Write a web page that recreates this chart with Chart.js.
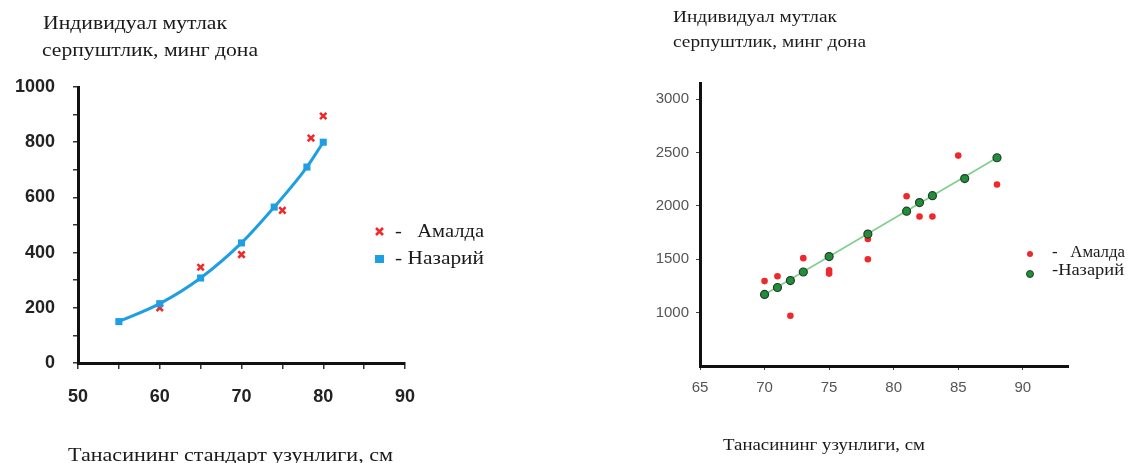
<!DOCTYPE html>
<html>
<head>
<meta charset="utf-8">
<script src="https://cdn.jsdelivr.net/npm/chart.js@4.4.1/dist/chart.umd.min.js"></script>
<style>
  html, body { margin: 0; padding: 0; background: #fff; width: 1129px; height: 463px; overflow: hidden; }
  body { position: relative; }
  canvas { position: absolute; top: 0; }
  .t { position: absolute; font-family: "Liberation Serif", "Times New Roman", serif; color: #1a1a1a;
       white-space: pre; line-height: 1; transform-origin: 0 50%; }
  .m { position: absolute; }
</style>
</head>
<body>
<canvas id="fecLeft" width="560" height="463" style="left:0"></canvas>
<canvas id="fecRight" width="569" height="463" style="left:560px"></canvas>

<!-- left panel texts -->
<div class="t" data-w="184" style="left:43px;top:14px;font-size:18px">Индивидуал мутлак</div>
<div class="t" data-w="216" style="left:42px;top:41px;font-size:18px">серпуштлик, минг дона</div>
<div class="t" data-w="325" style="left:68px;top:446px;font-size:18px">Танасининг стандарт узунлиги, см</div>
<svg class="m" style="left:374px;top:226px" width="11" height="11"><path d="M2 2 L9 9 M9 2 L2 9" stroke="#ee2a2a" stroke-width="2.6"/></svg>
<div class="m" style="left:375px;top:255px;width:9px;height:8px;background:#1e9fe3"></div>
<div class="t" data-w="89" style="left:395px;top:221px;font-size:19px">-   Амалда</div>
<div class="t" data-w="89" style="left:395px;top:248px;font-size:19px">- Назарий</div>

<!-- right panel texts -->
<div class="t" data-w="164" style="left:673px;top:8px;font-size:17px">Индивидуал мутлак</div>
<div class="t" data-w="193" style="left:673px;top:33px;font-size:17px">серпуштлик, минг дона</div>
<div class="t" data-w="202" style="left:723px;top:436px;font-size:17px">Танасининг узунлиги, см</div>
<div class="m" style="left:1027px;top:251px;width:6px;height:6px;border-radius:50%;background:#f0282c"></div>
<div class="m" style="left:1026px;top:270px;width:6px;height:6px;border-radius:50%;background:#1e8f3a;border:1px solid #2b3b2b"></div>
<div class="t" data-w="73" style="left:1052px;top:244px;font-size:16px">-   Амалда</div>
<div class="t" data-w="72" style="left:1052px;top:262px;font-size:16px">-Назарий</div>

<script>
// ---- Left panel: standard body length vs. absolute fecundity ----
const leftTheoryLen = [55, 60, 65, 70, 74, 78, 80];
const leftTheoryFec = [150, 215, 308, 435, 565, 710, 800];
const leftActualLen = [60, 65, 70, 75, 78.5, 80];
const leftActualFec = [200, 347, 393, 553, 815, 895];
const leftXTicks = [50, 60, 70, 80, 90];
const leftYTicks = [0, 200, 400, 600, 800, 1000];

// ---- Right panel: body length vs. absolute fecundity ----
const rightTheoryLen = [70, 71, 72, 73, 75, 78, 81, 82, 83, 85.5, 88];
const rightTheoryFec = [1170, 1235, 1300, 1380, 1525, 1735, 1950, 2030, 2095, 2255, 2450];
const rightActualLen = [70, 71, 72, 73, 75, 75, 78, 78, 81, 82, 83, 85, 88];
const rightActualFec = [1295, 1340, 970, 1510, 1395, 1365, 1690, 1500, 2090, 1900, 1900, 2470, 2200];
const rightXTicks = [65, 70, 75, 80, 85, 90];
const rightYTicks = [1000, 1500, 2000, 2500, 3000];

const pts = (xs, ys) => xs.map((x, i) => ({ x, y: ys[i] }));

Chart.defaults.animation = false;
Chart.defaults.plugins.legend.display = false;
Chart.defaults.plugins.tooltip.enabled = false;

const keepTicks = list => scale => {
  scale.ticks = list.map(v => ({ value: v }));
};

// left chart
new Chart(document.getElementById('fecLeft'), {
  type: 'scatter',
  data: {
    datasets: [
      {
        label: 'Назарий',
        data: pts(leftTheoryLen, leftTheoryFec),
        showLine: true,
        cubicInterpolationMode: 'monotone',
        borderColor: '#1e9fe3',
        backgroundColor: '#1e9fe3',
        borderWidth: 3,
        pointStyle: 'rect',
        pointRadius: 5,
        pointBorderWidth: 0,
        order: 0
      },
      {
        label: 'Амалда',
        data: pts(leftActualLen, leftActualFec),
        pointStyle: 'crossRot',
        pointRadius: 4.5,
        pointBorderWidth: 2.6,
        borderColor: '#ee2a2a',
        backgroundColor: '#ee2a2a',
        order: 1
      }
    ]
  },
  options: {
    responsive: false,
    devicePixelRatio: 1,
    layout: { padding: { left: 0, right: 155, top: 87, bottom: 50 } },
    scales: {
      x: {
        type: 'linear', min: 50, max: 90,
        afterBuildTicks: scale => {
          const minor = [55, 65, 75, 85];
          scale.ticks = leftXTicks.concat(minor).sort((a, b) => a - b).map(v => ({ value: v }));
        },
        afterFit: s => { s.height = 50; },
        border: { color: '#111', width: 3 },
        grid: { drawOnChartArea: false, drawTicks: true, tickLength: 6, color: '#333', lineWidth: 1.5 },
        ticks: {
          autoSkip: false, maxRotation: 0, padding: 17, color: '#222',
          font: { family: '"Liberation Sans", Arial, sans-serif', size: 18, weight: 'bold' },
          callback: v => leftXTicks.includes(v) ? String(v) : ''
        }
      },
      y: {
        type: 'linear', min: 0, max: 1000,
        afterBuildTicks: scale => {
          const t = [];
          for (let v = 0; v <= 1000; v += 100) t.push({ value: v });
          scale.ticks = t;
        },
        afterFit: s => { s.width = 78; },
        border: { color: '#111', width: 3 },
        grid: { drawOnChartArea: false, drawTicks: true, tickLength: 5, color: '#333', lineWidth: 1.5 },
        ticks: {
          autoSkip: false, padding: 18, color: '#222',
          font: { family: '"Liberation Sans", Arial, sans-serif', size: 18, weight: 'bold' },
          callback: v => leftYTicks.includes(v) ? String(v) : ''
        }
      }
    }
  }
});

// right chart: straight trend line between the first and last theoretical points
const trend = [
  { x: rightTheoryLen[0], y: rightTheoryFec[0] },
  { x: rightTheoryLen[rightTheoryLen.length - 1], y: rightTheoryFec[rightTheoryFec.length - 1] }
];

new Chart(document.getElementById('fecRight'), {
  type: 'scatter',
  data: {
    datasets: [
      {
        label: 'trend',
        data: trend,
        showLine: true,
        borderColor: '#7ed08a',
        borderWidth: 1.6,
        pointRadius: 0,
        order: 2
      },
      {
        label: 'Назарий',
        data: pts(rightTheoryLen, rightTheoryFec),
        pointStyle: 'circle',
        pointRadius: 4,
        pointBorderWidth: 1.2,
        borderColor: '#2b3b2b',
        backgroundColor: '#1e8f3a',
        order: 0
      },
      {
        label: 'Амалда',
        data: pts(rightActualLen, rightActualFec),
        pointStyle: 'circle',
        pointRadius: 3.3,
        pointBorderWidth: 0,
        borderColor: '#f0282c',
        backgroundColor: '#f0282c',
        order: 1
      }
    ]
  },
  options: {
    responsive: false,
    devicePixelRatio: 1,
    layout: { padding: { left: 0, right: 61, top: 83, bottom: 57 } },
    scales: {
      x: {
        type: 'linear', min: 65, max: 93.5,
        afterBuildTicks: keepTicks(rightXTicks),
        afterFit: s => { s.height = 40; },
        border: { color: '#111', width: 3 },
        grid: { drawOnChartArea: false, drawTicks: true, tickLength: 4, color: '#444', lineWidth: 1 },
        ticks: {
          autoSkip: false, maxRotation: 0, padding: 9, color: '#555',
          font: { family: '"Liberation Sans Narrow", "Liberation Sans", Arial, sans-serif', size: 15 },
          callback: v => String(v)
        }
      },
      y: {
        type: 'linear', min: 500, max: 3150,
        afterBuildTicks: keepTicks(rightYTicks),
        afterFit: s => { s.width = 140; },
        border: { color: '#111', width: 3 },
        grid: { drawOnChartArea: false, drawTicks: true, tickLength: 4, color: '#444', lineWidth: 1 },
        ticks: {
          autoSkip: false, padding: 7, color: '#555',
          font: { family: '"Liberation Sans Narrow", "Liberation Sans", Arial, sans-serif', size: 15 },
          callback: v => String(v)
        }
      }
    }
  }
});

// stretch each caption horizontally to its box width
function fitText() {
  document.querySelectorAll('.t').forEach(el => {
    el.style.transform = 'none';
    const natural = el.getBoundingClientRect().width;
    const target = parseFloat(el.dataset.w);
    if (natural > 0) el.style.transform = 'scaleX(' + (target / natural).toFixed(4) + ')';
  });
}
fitText();
if (document.fonts && document.fonts.ready) document.fonts.ready.then(fitText);
</script>
</body>
</html>
